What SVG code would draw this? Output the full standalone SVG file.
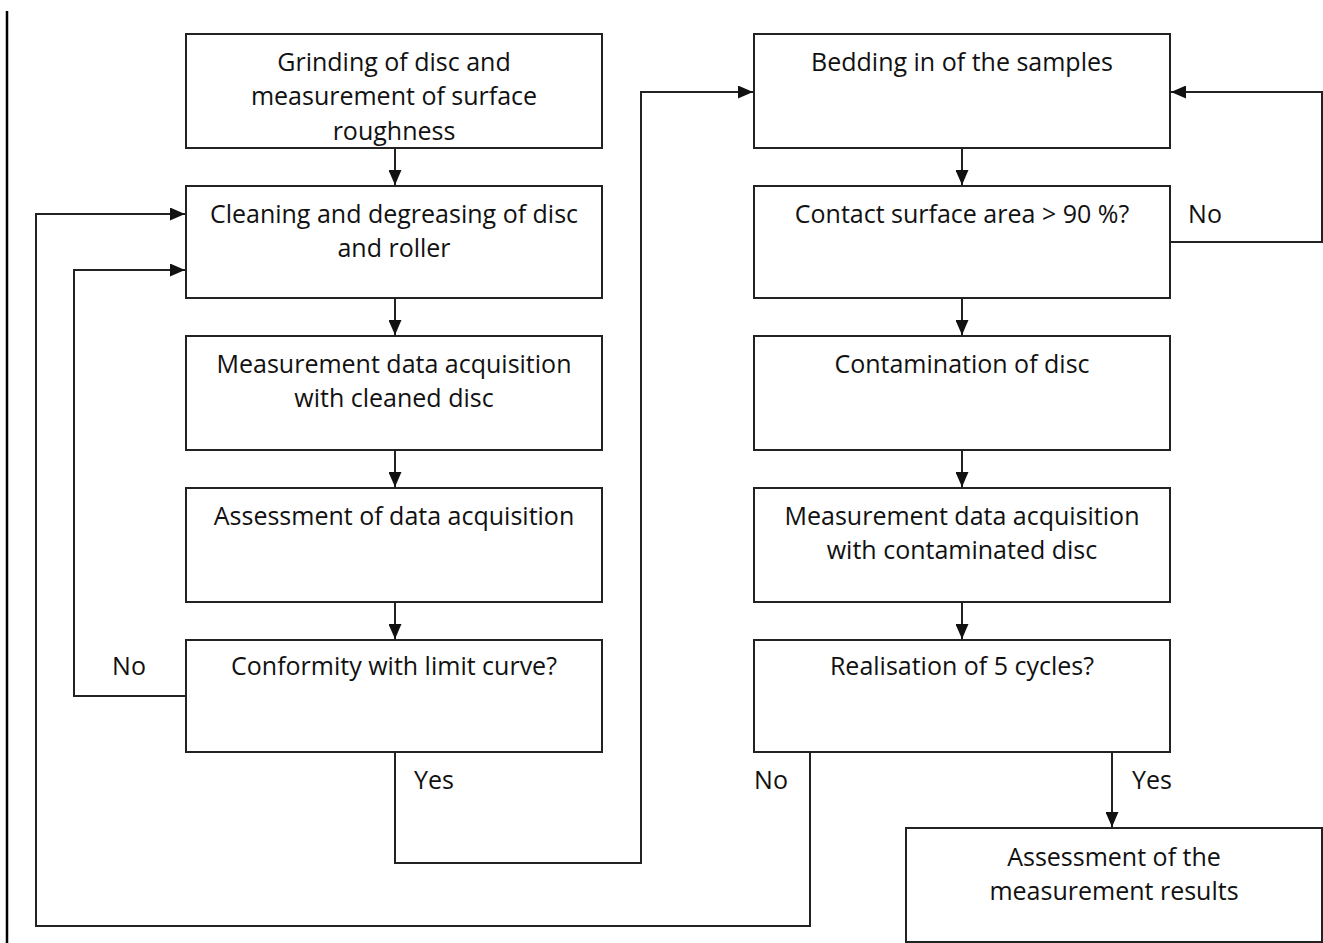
<svg xmlns="http://www.w3.org/2000/svg" width="1323" height="943" viewBox="0 0 1323 943">
<style>
.box{fill:#fff;stroke:#222;stroke-width:2}
.t{font-family:"Open Sans","Liberation Sans",sans-serif;font-size:25px;fill:#111;text-anchor:middle}
.c{fill:none;stroke:#222;stroke-width:2}
</style>
<defs>
<marker id="ah" markerUnits="userSpaceOnUse" markerWidth="15" markerHeight="13" refX="15" refY="6.5" orient="auto">
<path d="M0,0 L15,6.5 L0,13 Z" fill="#111"/>
</marker>
</defs>
<rect width="1323" height="943" fill="#fff"/>
<line x1="7" y1="11" x2="7" y2="943" stroke="#000" stroke-width="2.5"/>
<g id="connectors">
<line class="c" x1="395" y1="148" x2="395" y2="185" marker-end="url(#ah)"/>
<line class="c" x1="395" y1="298" x2="395" y2="335" marker-end="url(#ah)"/>
<line class="c" x1="395" y1="450" x2="395" y2="487" marker-end="url(#ah)"/>
<line class="c" x1="395" y1="602" x2="395" y2="639" marker-end="url(#ah)"/>
<line class="c" x1="962" y1="148" x2="962" y2="185" marker-end="url(#ah)"/>
<line class="c" x1="962" y1="298" x2="962" y2="335" marker-end="url(#ah)"/>
<line class="c" x1="962" y1="450" x2="962" y2="487" marker-end="url(#ah)"/>
<line class="c" x1="962" y1="602" x2="962" y2="639" marker-end="url(#ah)"/>
<line class="c" x1="1112" y1="752" x2="1112" y2="827" marker-end="url(#ah)"/>
<polyline class="c" points="186,696 74,696 74,270 185,270" marker-end="url(#ah)"/>
<polyline class="c" points="810,752 810,926 36,926 36,214 185,214" marker-end="url(#ah)"/>
<polyline class="c" points="395,752 395,863 641,863 641,92 753,92" marker-end="url(#ah)"/>
<polyline class="c" points="1170,242 1322,242 1322,92 1171,92" marker-end="url(#ah)"/>
<text class="t" x="129" y="675">No</text>
<text class="t" x="434" y="789">Yes</text>
<text class="t" x="1205" y="223">No</text>
<text class="t" x="771" y="789">No</text>
<text class="t" x="1152" y="789">Yes</text>
</g>
<g id="n1"><rect class="box" x="186" y="34" width="416" height="114"/>
<text class="t" x="394" y="71">Grinding of disc and</text>
<text class="t" x="394" y="105">measurement of surface</text>
<text class="t" x="394" y="140">roughness</text></g>
<g id="n2"><rect class="box" x="186" y="186" width="416" height="112"/>
<text class="t" x="394" y="223">Cleaning and degreasing of disc</text>
<text class="t" x="394" y="257">and roller</text></g>
<g id="n3"><rect class="box" x="186" y="336" width="416" height="114"/>
<text class="t" x="394" y="373">Measurement data acquisition</text>
<text class="t" x="394" y="407">with cleaned disc</text></g>
<g id="n4"><rect class="box" x="186" y="488" width="416" height="114"/>
<text class="t" x="394" y="525">Assessment of data acquisition</text></g>
<g id="n5"><rect class="box" x="186" y="640" width="416" height="112"/>
<text class="t" x="394" y="675">Conformity with limit curve?</text></g>
<g id="r1"><rect class="box" x="754" y="34" width="416" height="114"/>
<text class="t" x="962" y="71">Bedding in of the samples</text></g>
<g id="r2"><rect class="box" x="754" y="186" width="416" height="112"/>
<text class="t" x="962" y="223">Contact surface area &gt; 90 %?</text></g>
<g id="r3"><rect class="box" x="754" y="336" width="416" height="114"/>
<text class="t" x="962" y="373">Contamination of disc</text></g>
<g id="r4"><rect class="box" x="754" y="488" width="416" height="114"/>
<text class="t" x="962" y="525">Measurement data acquisition</text>
<text class="t" x="962" y="559">with contaminated disc</text></g>
<g id="r5"><rect class="box" x="754" y="640" width="416" height="112"/>
<text class="t" x="962" y="675">Realisation of 5 cycles?</text></g>
<g id="r6"><rect class="box" x="906" y="828" width="416" height="114"/>
<text class="t" x="1114" y="866">Assessment of the</text>
<text class="t" x="1114" y="900">measurement results</text></g>
</svg>
